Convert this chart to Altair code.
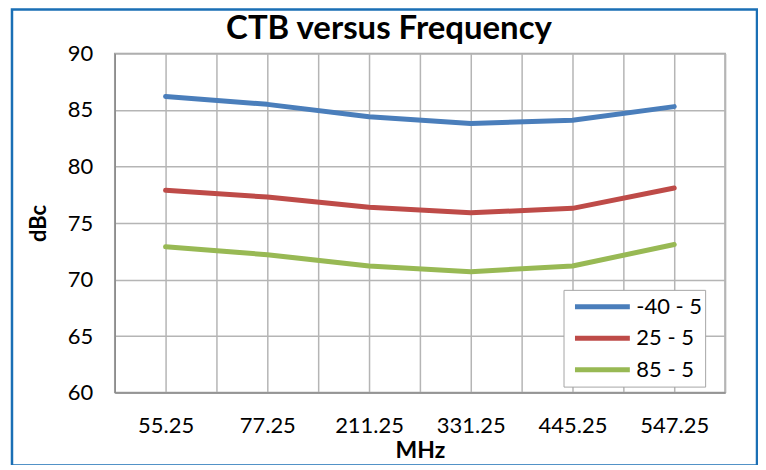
import altair as alt
import pandas as pd

freqs = ["55.25", "77.25", "211.25", "331.25", "445.25", "547.25"]
series = ["-40 - 5", "25 - 5", "85 - 5"]
s_m40 = [86.2, 85.5, 84.4, 83.8, 84.1, 85.3]
s_25 = [77.9, 77.3, 76.4, 75.9, 76.3, 78.1]
s_85 = [72.9, 72.2, 71.2, 70.7, 71.2, 73.1]
colors = ["#4A7EBB", "#BE4B48", "#98B954"]
y_ticks = [60, 65, 70, 75, 80, 85, 90]

rows = []
for name, vals in zip(series, [s_m40, s_25, s_85]):
    for i, (f, v) in enumerate(zip(freqs, vals)):
        rows.append({"idx": i, "freq": f, "series": name, "dBc": v})
df = pd.DataFrame(rows)

FONT = "Lato"
x_grid_vals = [i * 0.5 - 0.5 for i in range(2 * len(freqs) + 1)]
label_arr = "[" + ",".join("'" + f + "'" for f in freqs) + "]"
label_expr = f"datum.value % 1 == 0 ? {label_arr}[datum.value] : ''"

lines = alt.Chart(df).mark_line(strokeWidth=5, strokeCap="round", strokeJoin="round").encode(
    x=alt.X("idx:Q",
            scale=alt.Scale(domain=[-0.5, len(freqs) - 0.5], nice=False, zero=False),
            axis=alt.Axis(values=x_grid_vals, labelExpr=label_expr, title="MHz",
                          ticks=False, labelPadding=23, labelFontSize=22, labelFont=FONT,
                          labelColor="#000000", titleFont=FONT, titleFontSize=23,
                          titleFontWeight="bold", titleColor="#000000",
                          titleY=58, titleBaseline="middle",
                          grid=True, gridColor="#b5b5b5", gridWidth=1.5,
                          domainColor="#8c8c8c", domainWidth=1.5, labelFlush=False)),
    y=alt.Y("dBc:Q",
            scale=alt.Scale(domain=[60, 90], nice=False, zero=False),
            axis=alt.Axis(values=y_ticks, title="dBc", ticks=False, labelPadding=22,
                          labelFontSize=22, labelFont=FONT, labelColor="#000000",
                          titleFont=FONT, titleFontSize=22, titleFontWeight="bold",
                          titleColor="#000000", titleX=-76, titleY=170, titleAngle=270,
                          titleAlign="center", titleBaseline="middle",
                          grid=True, gridColor="#b5b5b5", gridWidth=1.5,
                          domainColor="#8c8c8c", domainWidth=1.5)),
    color=alt.Color("series:N", sort=series,
                    scale=alt.Scale(domain=series, range=colors),
                    legend=alt.Legend(title=None, orient="none", legendX=450, legendY=237,
                                      symbolType="stroke", symbolSize=3025,
                                      symbolStrokeWidth=5, symbolOffset=6,
                                      labelFont=FONT, labelFontSize=22, labelColor="#000000",
                                      labelOffset=4, clipHeight=28, rowPadding=3.5,
                                      padding=3, strokeColor="#a6a6a6", fillColor="#ffffff")),
)

border = alt.Chart(pd.DataFrame({"a": [0]})).mark_rect(
    filled=False, stroke="#1a6fb5", strokeWidth=2.5
).encode(x=alt.value(-103), x2=alt.value(644), y=alt.value(-44), y2=alt.value(413))

chart = alt.layer(lines, border).properties(
    width=612, height=340,
    autosize=alt.AutoSizeParams(type="none"),
    padding={"left": 107, "top": 45, "right": 33, "bottom": 72},
    title=alt.TitleParams("CTB versus Frequency", font=FONT, fontSize=33,
                          fontWeight="bold", color="#000000", anchor="middle",
                          frame="group", baseline="alphabetic",
                          dx=-31, dy=74, offset=10),
).configure_view(stroke="#a0a0a0", strokeWidth=1.5)

chart.save("out.html", embed_options={"renderer": "svg", "actions": False})
